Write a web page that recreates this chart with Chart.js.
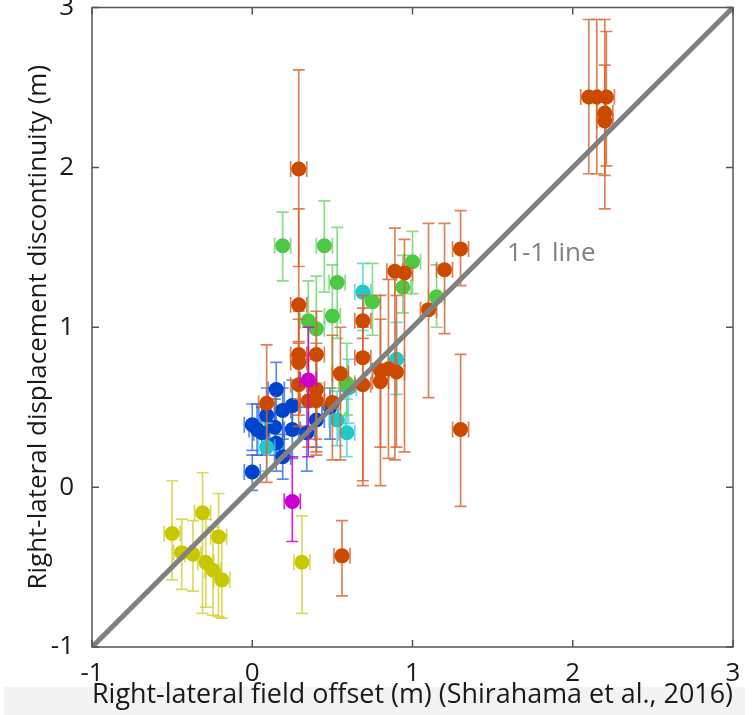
<!DOCTYPE html>
<html>
<head>
<meta charset="utf-8">
<script src="https://cdn.jsdelivr.net/npm/chart.js@4.4.1/dist/chart.umd.min.js"></script>
<style>
  html, body { margin: 0; padding: 0; background: #fff; }
  #wrap { width: 753px; height: 715px; }
</style>
</head>
<body>
<div id="wrap"><canvas id="offsetChart"></canvas></div>
<script>
// field offset (x) vs. model displacement discontinuity (y), metres
var xErr = 0.05;

var orangeX  = [0.29, 0.29, 0.29, 0.29, 0.29, 0.40, 0.40, 0.35, 0.40, 0.50, 0.55, 0.09, 0.69, 0.69, 0.69, 0.80, 0.80, 0.85, 0.90, 0.89, 0.95, 1.10, 1.20, 1.30, 1.30, 0.56, 2.10, 2.15, 2.21, 2.20, 2.20];
var orangeY  = [1.99, 1.14, 0.83, 0.78, 0.64, 0.83, 0.61, 0.54, 0.54, 0.53, 0.71, 0.525, 1.04, 0.81, 0.64, 0.73, 0.66, 0.74, 0.72, 1.35, 1.34, 1.11, 1.36, 1.49, 0.36, -0.43, 2.44, 2.44, 2.44, 2.34, 2.29];
var orangeLo = [1.38, 0.91, 0.55, 0.45, 0.38, 0.20, 0.30, 0.25, 0.22, 0.17, 0.17, 0.03, 0.93, 0.04, 0.01, 0.25, 0.01, 0.18, 0.25, 0.17, 0.22, 0.56, 0.96, 1.26, -0.12, -0.68, 1.96, 1.96, 2.01, 1.95, 1.74];
var orangeHi = [2.61, 1.74, 1.05, 1.10, 0.90, 1.10, 0.90, 0.80, 0.85, 0.95, 1.00, 0.89, 1.12, 1.20, 1.00, 1.20, 1.05, 1.30, 1.20, 1.62, 1.55, 1.65, 1.65, 1.73, 0.83, -0.21, 2.925, 2.925, 2.85, 2.64, 2.925];

var greenX  = [0.19, 0.45, 0.53, 0.35, 0.40, 0.50, 0.75, 1.00, 0.94, 1.15, 0.59];
var greenY  = [1.51, 1.51, 1.28, 1.04, 0.99, 1.07, 1.16, 1.41, 1.25, 1.19, 0.65];
var greenLo = [1.29, 1.22, 0.93, 0.70, 0.65, 0.62, 0.95, 1.21, 1.09, 1.00, 0.45];
var greenHi = [1.72, 1.79, 1.625, 1.29, 1.32, 1.39, 1.40, 1.60, 1.45, 1.39, 0.90];

var blueX  = [0.15, 0.00, 0.00, 0.09, 0.19, 0.25, 0.14, 0.25, 0.19, 0.34, 0.40, 0.485, 0.06, 0.15, 0.03];
var blueY  = [0.61, 0.39, 0.095, 0.45, 0.48, 0.51, 0.375, 0.36, 0.19, 0.34, 0.42, 0.50, 0.34, 0.275, 0.36];
var blueLo = [0.46, 0.23, -0.02, 0.30, 0.30, 0.33, 0.20, 0.18, 0.05, 0.10, 0.25, 0.30, 0.20, 0.10, 0.20];
var blueHi = [0.78, 0.52, 0.20, 0.62, 0.62, 0.67, 0.55, 0.52, 0.33, 0.50, 0.60, 0.62, 0.50, 0.45, 0.52];

var cyanX  = [0.09, 0.90, 0.59, 0.53, 0.69, 0.60];
var cyanY  = [0.25, 0.80, 0.34, 0.42, 1.22, 0.62];
var cyanLo = [0.10, 0.58, 0.19, 0.26, 0.98, 0.40];
var cyanHi = [0.40, 1.03, 0.55, 0.60, 1.40, 0.80];

var magentaX  = [0.35, 0.25];
var magentaY  = [0.67, -0.09];
var magentaLo = [0.19, -0.34];
var magentaHi = [1.00, 0.19];

var yellowX  = [-0.50, -0.44, -0.37, -0.31, -0.21, -0.29, -0.245, -0.19, 0.31];
var yellowY  = [-0.29, -0.41, -0.42, -0.16, -0.31, -0.47, -0.52, -0.58, -0.47];
var yellowLo = [-0.58, -0.64, -0.65, -0.79, -0.81, -0.75, -0.80, -0.82, -0.79];
var yellowHi = [0.04, -0.20, -0.21, 0.09, -0.04, -0.20, -0.25, -0.30, -0.18];

var lineX = [-1, 3];
var lineY = [-1, 3];
var axisTicks = [-1, 0, 1, 2, 3];

function points(xs, ys) {
    return xs.map(function(x, i) { return { x: x, y: ys[i] }; });
}

function group(xs, ys, lo, hi, color, barColor, order) {
    return {
        type: 'scatter',
        data: points(xs, ys),
        lo: lo,
        hi: hi,
        barColor: barColor,
        backgroundColor: color,
        borderColor: color,
        borderWidth: 0,
        pointRadius: 7.5,
        pointHoverRadius: 7.5,
        order: order
    };
}

// error bars drawn just before each scatter group
var errorBars = {
    id: 'errorBars',
    beforeDatasetDraw: function(chart, args) {
        var ds = chart.data.datasets[args.index];
        if (!ds.lo) return;
        var ctx = chart.ctx, xs = chart.scales.x, ys = chart.scales.y;
        ctx.save();
        ctx.strokeStyle = ds.barColor;
        ctx.lineWidth = 1.7;
        ds.data.forEach(function(p, i) {
            var px = xs.getPixelForValue(p.x);
            var py = ys.getPixelForValue(p.y);
            var lo = ys.getPixelForValue(ds.lo[i]);
            var hi = ys.getPixelForValue(ds.hi[i]);
            var l = xs.getPixelForValue(p.x - xErr);
            var r = xs.getPixelForValue(p.x + xErr);
            ctx.beginPath();
            ctx.moveTo(px, lo); ctx.lineTo(px, hi);
            ctx.moveTo(px - 6, lo); ctx.lineTo(px + 6, lo);
            ctx.moveTo(px - 6, hi); ctx.lineTo(px + 6, hi);
            ctx.moveTo(l, py); ctx.lineTo(r, py);
            ctx.moveTo(l, py - 8); ctx.lineTo(l, py + 8);
            ctx.moveTo(r, py - 8); ctx.lineTo(r, py + 8);
            ctx.stroke();
        });
        ctx.restore();
    }
};

// white page, grey strip at the bottom, matlab style box with inward ticks
var frame = {
    id: 'frame',
    beforeDraw: function(chart) {
        var ctx = chart.ctx;
        ctx.save();
        ctx.fillStyle = '#ffffff';
        ctx.fillRect(0, 0, chart.width, chart.height);
        ctx.fillStyle = '#f3f3f3';
        ctx.fillRect(4, 687, 741, chart.height - 687);
        ctx.restore();
    },
    afterDraw: function(chart) {
        var ctx = chart.ctx, a = chart.chartArea;
        var xs = chart.scales.x, ys = chart.scales.y;
        ctx.save();
        ctx.strokeStyle = '#555555';
        ctx.lineWidth = 1.5;
        ctx.strokeRect(a.left, a.top, a.right - a.left, a.bottom - a.top);
        ctx.beginPath();
        axisTicks.forEach(function(v) {
            var px = xs.getPixelForValue(v);
            ctx.moveTo(px, a.bottom); ctx.lineTo(px, a.bottom - 7);
            ctx.moveTo(px, a.top); ctx.lineTo(px, a.top + 7);
            var py = ys.getPixelForValue(v);
            ctx.moveTo(a.left, py); ctx.lineTo(a.left + 7, py);
            ctx.moveTo(a.right, py); ctx.lineTo(a.right - 7, py);
        });
        ctx.stroke();
        ctx.restore();
    },
    afterDatasetsDraw: function(chart) {
        var ctx = chart.ctx;
        ctx.save();
        ctx.fillStyle = '#808080';
        ctx.font = '26px "Open Sans"';
        ctx.textBaseline = 'middle';
        ctx.fillText('1-1 line', chart.scales.x.getPixelForValue(1.59), chart.scales.y.getPixelForValue(1.46));
        ctx.restore();
    }
};

var ctx = document.getElementById('offsetChart').getContext('2d');
var offsetChart = new Chart(ctx, {
    type: 'scatter',
    data: {
        datasets: [
            {
                type: 'line',
                data: points(lineX, lineY),
                borderColor: '#808080',
                borderWidth: 5,
                pointRadius: 0,
                fill: false,
                order: 0
            },
            group(magentaX, magentaY, magentaLo, magentaHi, '#cc00cc', 'rgba(204,0,204,0.85)', 1),
            group(orangeX, orangeY, orangeLo, orangeHi, '#cc4a00', 'rgba(214,100,45,0.8)', 2),
            group(greenX, greenY, greenLo, greenHi, '#4cc844', 'rgba(100,210,100,0.75)', 3),
            group(cyanX, cyanY, cyanLo, cyanHi, '#22c8c8', 'rgba(60,210,210,0.75)', 4),
            group(blueX, blueY, blueLo, blueHi, '#0044cc', 'rgba(40,100,220,0.75)', 5),
            group(yellowX, yellowY, yellowLo, yellowHi, '#c8c800', 'rgba(205,205,40,0.75)', 6)
        ]
    },
    options: {
        responsive: true,
        maintainAspectRatio: false,
        animation: false,
        layout: { padding: { top: 7, right: 20, left: 0, bottom: 0 } },
        plugins: {
            legend: { display: false },
            tooltip: { enabled: false }
        },
        scales: {
            x: {
                type: 'linear',
                min: -1,
                max: 3,
                afterFit: function(scale) { scale.height = 68; scale.paddingLeft = 0; scale.paddingRight = 0; },
                afterBuildTicks: function(scale) { scale.ticks = axisTicks.map(function(v) { return { value: v }; }); },
                grid: { display: false },
                border: { display: false },
                ticks: { padding: 3, color: '#1a1a1a', font: { family: 'Open Sans', size: 26 } },
                title: {
                    display: true,
                    text: 'Right-lateral field offset (m) (Shirahama et al., 2016)',
                    color: '#1a1a1a',
                    font: { family: 'Open Sans', size: 27 },
                    padding: { top: 0, bottom: 3 }
                }
            },
            y: {
                type: 'linear',
                min: -1,
                max: 3,
                afterFit: function(scale) { scale.width = 92; scale.paddingTop = 0; scale.paddingBottom = 0; },
                afterBuildTicks: function(scale) { scale.ticks = axisTicks.map(function(v) { return { value: v }; }); },
                grid: { display: false },
                border: { display: false },
                ticks: { padding: 10, color: '#1a1a1a', font: { family: 'Open Sans', size: 26 } },
                title: {
                    display: true,
                    text: 'Right-lateral displacement discontinuity (m)',
                    color: '#1a1a1a',
                    font: { family: 'Open Sans', size: 26 },
                    padding: { top: 23, bottom: 0 }
                }
            }
        }
    },
    plugins: [errorBars, frame]
});
</script>
</body>
</html>
